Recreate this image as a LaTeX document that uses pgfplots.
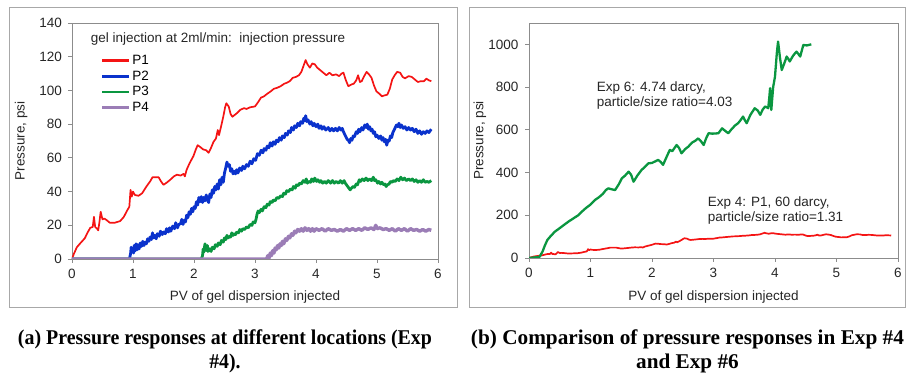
\documentclass[border=0pt]{standalone}
\usepackage{pgfplots}
\usepackage{pgfplotstable}
\pgfplotsset{compat=1.18}
\usepackage{fontspec}
\setmainfont{Liberation Sans}
\newfontfamily\capfont{Liberation Serif}
\definecolor{cRed}{HTML}{F41414}
\definecolor{cBlue}{HTML}{0A32CC}
\definecolor{cGreen}{HTML}{0A9640}
\definecolor{cPurple}{HTML}{9B7DB6}
\definecolor{frame}{HTML}{8C8C8C}
\definecolor{panel}{HTML}{A8A8A8}

\pgfplotstableread{
x y
0 0
0.03 3
0.08 7
0.14 9.5
0.21 12.3
0.26 16
0.3 18.5
0.34 19
0.36 25
0.38 19
0.41 18
0.43 17
0.45 22
0.47 28
0.5 23.5
0.53 24
0.57 23
0.62 21.5
0.7 21.5
0.79 22.5
0.85 25
0.9 28.5
0.94 31
0.96 41
0.98 37
1.0 40
1.03 38
1.09 37.5
1.15 39
1.22 43
1.28 46
1.32 48.5
1.38 48.5
1.42 48.5
1.46 46
1.5 44
1.56 45.5
1.61 47
1.67 49
1.72 50
1.78 49.5
1.83 50.5
1.85 49
1.88 53
1.93 57
1.99 61
2.03 65
2.06 67.5
2.1 66.5
2.15 65
2.2 64.5
2.24 63
2.28 66
2.32 69.5
2.36 71.5
2.39 76.5
2.41 73.5
2.44 78
2.48 84.4
2.51 90
2.53 92.4
2.57 90.4
2.6 86
2.63 84.4
2.7 86.4
2.76 88.5
2.82 89.5
2.86 89
2.92 90
3.0 90.5
3.05 93
3.1 95.8
3.14 96.3
3.2 98
3.26 99.5
3.31 101
3.36 101.5
3.42 102.5
3.48 104
3.52 104.5
3.57 105.5
3.62 107.5
3.67 108
3.72 109
3.76 111
3.8 115
3.83 118
3.86 115.5
3.9 113.5
3.94 116
3.98 115.5
4.02 113.5
4.07 112
4.12 110.5
4.17 109
4.22 110.5
4.27 109
4.33 109.5
4.38 108.5
4.42 110
4.45 110.5
4.49 106
4.53 102.5
4.58 103.5
4.62 104
4.66 106
4.69 109
4.72 105
4.75 105.5
4.79 108.5
4.83 111
4.87 109.5
4.91 107.5
4.95 103
4.99 99.5
5.04 98
5.08 96.5
5.12 97
5.17 97.5
5.21 101
5.25 106.5
5.29 109
5.33 111
5.38 110.5
5.42 108
5.46 107.2
5.52 108.5
5.57 108
5.62 106.5
5.67 105
5.72 105.5
5.77 105.5
5.81 107
5.85 106
5.89 105.5
}\pone

\pgfplotsset{
  panel/.style={
    scale only axis, anchor=south west,
    axis line style={draw=frame, line width=0.9pt},
    xmin=0, xmax=6, xtick={0,1,...,6},
    xtick pos=bottom, ytick pos=left,
    tick align=outside,
    major tick length=4pt,
    tick style={draw=frame, line width=0.8pt},
    tick label style={font=\fontsize{13.5}{16}\selectfont, text=black!85},
    xticklabel style={yshift=-3pt},
    label style={font=\fontsize{13.5}{16}\selectfont, text=black!85},
    /pgf/number format/assume math mode=true,
    /pgf/number format/1000 sep={},
    xlabel={PV of gel dispersion injected},
    ylabel={Pressure, psi},
  }
}

\begin{document}
\begin{tikzpicture}[x=1pt,y=1pt]
\useasboundingbox (0,0) rectangle (906,380);
\draw[panel, line width=1pt] (9,72) rectangle (457,372);
\draw[panel, line width=1pt] (469,72) rectangle (905.5,372);

% ---------------- left chart
\begin{axis}[panel,
  at={(72pt,121pt)}, width=366pt, height=236pt,
  ymin=0, ymax=140, ytick={0,20,...,140},
  yticklabel style={xshift=-2.5pt},
  xlabel style={at={(axis description cs:0.5,-0.161)}, anchor=center},
  ylabel style={at={(axis description cs:-0.139,0.5)}, anchor=center},
  legend style={draw=none, fill=none, at={(axis description cs:0.078,0.873)}, anchor=north west,
    font=\fontsize{13.5}{16}\selectfont, inner sep=0pt, row sep=0.8pt},
  legend cell align=left,
  legend image code/.code={\draw[#1, line width=2.6pt] (0pt,0pt) -- (27pt,0pt);},
]
\addplot[cRed, line width=1.7pt, line join=round] table {\pone};
\addlegendentry{P1}
\addplot[cBlue, line width=2.8pt, line join=round] table {
0 0
0.94 0
0.96 3
0.97 7
0.98 4
1.0 6.5
1.01 3.5
1.02 8
1.04 5
1.05 9
1.07 5.5
1.08 8.5
1.1 6
1.12 9.5
1.14 7.5
1.16 10.5
1.18 8
1.2 10
1.22 9
1.24 12
1.26 10.5
1.28 13
1.3 11.5
1.32 15.5
1.34 12.5
1.36 14
1.38 12
1.4 15
1.43 13.5
1.45 16.5
1.48 14.5
1.5 16
1.53 15
1.55 18
1.58 16
1.6 18.5
1.62 16.5
1.65 19.5
1.68 18
1.7 21.5
1.73 18.5
1.75 20.5
1.78 21
1.8 23.5
1.82 20.5
1.84 23
1.86 22
1.88 26
1.9 24.5
1.92 28
1.94 26.5
1.96 30
1.98 28
2.0 31
2.02 30
2.04 34
2.06 32
2.08 36.5
2.1 34
2.12 37
2.14 33.5
2.16 36.5
2.18 34.5
2.2 38
2.22 35
2.24 33.5
2.26 38.5
2.28 36.5
2.3 41
2.32 39
2.34 43
2.36 41
2.38 44.5
2.4 41.5
2.42 47
2.44 44
2.46 48.5
2.48 45.5
2.5 51
2.52 54
2.54 57.5
2.56 55
2.58 56
2.6 52
2.62 53.5
2.64 50.5
2.66 52
2.68 50.5
2.7 53
2.72 51
2.75 54
2.78 52.5
2.8 55
2.83 53.5
2.86 56
2.89 55
2.92 58
2.95 56.5
2.98 59.5
3.01 58.5
3.04 62.5
3.07 61.5
3.1 64.5
3.13 63
3.15 65.5
3.18 64.5
3.2 67
3.23 66
3.25 69
3.28 67
3.3 69.5
3.33 68
3.35 70.5
3.38 69.5
3.4 72
3.43 70.5
3.45 73
3.48 72
3.5 74.5
3.53 73.5
3.55 76
3.58 75
3.6 78
3.63 76.5
3.65 79
3.68 78
3.7 80.5
3.73 79
3.75 81.5
3.78 80.5
3.8 83.5
3.82 82
3.83 85
3.85 81.5
3.87 82.5
3.9 80
3.92 81.5
3.95 79
3.97 80.5
4.0 78.5
4.03 80
4.05 77.5
4.08 79
4.1 77
4.13 78.5
4.16 76.5
4.2 78
4.23 76
4.26 77.5
4.29 76
4.32 77.5
4.35 76
4.38 78
4.41 76.5
4.43 77.5
4.45 75.5
4.47 74
4.49 72.5
4.51 71
4.53 70.5
4.55 69
4.57 71.5
4.59 70.5
4.61 73
4.63 72.5
4.66 75.5
4.68 74.5
4.7 77
4.72 75.5
4.75 78
4.77 76.5
4.8 79.5
4.82 78
4.84 80
4.86 77
4.88 78.5
4.9 76
4.92 77
4.94 74.5
4.96 75.5
4.98 72.5
5.0 73.5
5.03 71.5
5.06 73
5.08 70.5
5.1 72
5.12 69.5
5.14 71
5.16 67.5
5.18 70.5
5.2 70
5.22 73
5.24 72
5.26 75
5.28 76.5
5.3 78
5.32 79.5
5.34 78.5
5.36 80.5
5.38 78
5.4 79.5
5.43 77.5
5.46 78.5
5.49 76.5
5.52 78
5.55 76.5
5.58 77.5
5.61 75.5
5.64 77
5.67 74.5
5.7 76
5.73 74
5.76 75.5
5.79 74.5
5.82 76
5.85 75
5.89 77
};
\addlegendentry{P2}
\addplot[cGreen, line width=2.8pt, line join=round] table {
0 0
2.12 0
2.14 2
2.15 6
2.16 4
2.18 9
2.2 5
2.22 8
2.23 4.5
2.26 6
2.28 4.5
2.3 7
2.33 6
2.35 8.5
2.38 7.5
2.4 9.5
2.43 8.5
2.45 11
2.48 10
2.5 12.5
2.52 11.5
2.54 14
2.56 12.5
2.58 13.5
2.6 13
2.62 15.5
2.64 14
2.66 15
2.68 14.5
2.7 16
2.73 15.5
2.75 17.5
2.78 16.5
2.8 18
2.83 17.5
2.86 19
2.89 18.5
2.92 20.5
2.95 20
2.97 22
3.0 21.5
3.02 24
3.03 26
3.05 28.5
3.07 27.5
3.1 29.5
3.12 28.5
3.15 31
3.18 30.5
3.2 32.5
3.23 32
3.25 34
3.28 33.5
3.3 35
3.33 34.5
3.36 36.5
3.39 36
3.42 37.5
3.45 37
3.47 39
3.5 38.5
3.52 40.5
3.55 40
3.58 41.5
3.61 41
3.63 43
3.66 42
3.68 44
3.71 43.5
3.73 45
3.76 44.5
3.79 46.5
3.82 45.5
3.84 47.5
3.86 45
3.88 46
3.91 45.5
3.93 47.5
3.96 46
3.98 48
4.01 46
4.03 47
4.06 45.5
4.08 46.5
4.11 45
4.14 46
4.17 45
4.2 46.5
4.24 45
4.27 46.5
4.3 45
4.33 46
4.37 45
4.4 46.5
4.43 45
4.46 46.5
4.48 45
4.5 44
4.52 43
4.54 42
4.56 41
4.58 42
4.61 43
4.63 42.5
4.66 44.5
4.68 44
4.71 47
4.73 46
4.76 47.5
4.79 46.5
4.82 48
4.85 46.5
4.88 47.5
4.91 46.5
4.94 48.5
4.96 46.5
4.98 47
5.01 45
5.03 46
5.06 44.5
5.08 45.5
5.11 44
5.13 44.5
5.15 43
5.17 44
5.2 44.5
5.22 46
5.25 45.5
5.27 46.5
5.3 46
5.33 47.5
5.36 46.5
5.39 48.5
5.42 47
5.45 48
5.48 46.5
5.52 47.5
5.55 46.5
5.58 47.5
5.61 46
5.64 47
5.67 45.5
5.7 46.5
5.73 45.5
5.76 47
5.79 45.5
5.82 46
5.85 45.5
5.89 46.5
};
\addlegendentry{P3}
\addplot[cPurple, line width=3.4pt, line join=round] table {
0 0
3.19 0
3.21 2
3.23 0.5
3.25 3.5
3.27 2
3.29 5
3.31 3.5
3.33 6.5
3.35 5.5
3.37 8
3.39 6.5
3.41 9
3.43 8
3.45 10.5
3.47 9
3.5 12
3.52 11
3.55 13.5
3.57 12.5
3.6 15
3.62 14
3.65 16.5
3.67 15.5
3.7 17.5
3.73 16.5
3.76 18
3.79 16.5
3.82 18.5
3.85 17
3.88 18
3.91 16.5
3.94 18
3.97 16.5
4.0 18
4.05 17
4.1 18
4.15 16.5
4.2 18
4.25 17
4.3 17.5
4.35 16.5
4.4 17.5
4.45 16.5
4.5 18
4.55 17
4.6 18
4.65 17
4.7 18
4.75 17
4.8 18.5
4.85 17.5
4.9 18.5
4.95 17.5
4.98 20
5.0 18
5.05 18.5
5.1 17.5
5.15 18
5.2 17
5.25 18
5.3 16.5
5.35 18
5.4 17
5.45 18
5.5 16.5
5.55 18
5.6 17
5.65 17.5
5.7 16.5
5.75 17.5
5.8 16.5
5.85 17.5
5.89 17
};
\addlegendentry{P4}
\node[anchor=west, font=\fontsize{13.5}{16}\selectfont, text=black!85, inner sep=0pt]
  at (axis description cs:0.051,0.9335) {gel injection at 2ml/min:\ \ injection pressure};
\end{axis}

% ---------------- right chart
\begin{axis}[panel,
  at={(529pt,122pt)}, width=369pt, height=235pt,
  ymin=0, ymax=1100, ytick={0,200,...,1000},
  yticklabel style={xshift=-3pt},
  xlabel style={at={(axis description cs:0.5,-0.165)}, anchor=center},
  ylabel style={at={(axis description cs:-0.133,0.5)}, anchor=center},
]
\addplot[cRed, line width=1.7pt, line join=round] table {\pone};
\addplot[cGreen, line width=2.3pt, line join=round] table {
0 0
0.1 3
0.17 5
0.22 30
0.26 60
0.3 85
0.36 105
0.42 123
0.5 140
0.57 155
0.64 170
0.72 185
0.8 200
0.86 217
0.93 235
1.0 250
1.07 271
1.14 285
1.2 300
1.25 318
1.29 326
1.34 322
1.4 318
1.46 345
1.51 373
1.56 385
1.62 404
1.66 390
1.7 357
1.76 385
1.83 412
1.88 425
1.94 443
2.0 445
2.05 452
2.1 459
2.14 450
2.18 436
2.24 475
2.29 506
2.33 500
2.4 529
2.44 515
2.48 490
2.54 510
2.59 521
2.65 540
2.71 550
2.75 560
2.8 545
2.84 529
2.88 560
2.92 584
2.98 582
3.04 583
3.08 584
3.14 607
3.19 595
3.24 584
3.3 605
3.35 620
3.4 631
3.44 645
3.48 662
3.51 645
3.54 631
3.6 670
3.67 701
3.72 690
3.76 670
3.8 695
3.84 709
3.87 705
3.89 701
3.91 760
3.92 795
3.93 740
3.94 693
3.97 800
4.0 849
4.03 960
4.05 1013
4.08 940
4.11 880
4.15 910
4.19 943
4.22 930
4.24 920
4.29 945
4.33 960
4.35 966
4.38 955
4.41 943
4.44 975
4.46 997
4.52 995
4.59 1000
};
\node[anchor=west, align=left, font=\fontsize{13.5}{15}\selectfont, text=black!85, inner sep=0pt]
  at (axis description cs:0.1835,0.692) {Exp 6: 4.74 darcy,\\particle/size ratio=4.03};
\node[anchor=west, align=left, font=\fontsize{13.5}{15}\selectfont, text=black!85, inner sep=0pt]
  at (axis description cs:0.484,0.202) {Exp 4: P1, 60 darcy,\\particle/size ratio=1.31};
\end{axis}

% ---------------- captions
\begin{scope}[every node/.style={inner sep=0pt, font=\capfont\bfseries\fontsize{21}{24}\selectfont}]
\node[anchor=base] at (225,35.4) {\resizebox{414pt}{\height}{(a) Pressure responses at different locations (Exp}};
\node[anchor=base] at (225,11.4) {\scalebox{0.943}[1]{\#4).}};
\node[anchor=base] at (687.5,35.4) {\resizebox{433pt}{\height}{(b) Comparison of pressure responses in Exp \#4}};
\node[anchor=base] at (687.5,11.4) {\scalebox{1.01}[1]{and Exp \#6}};
\end{scope}
\end{tikzpicture}
\end{document}
